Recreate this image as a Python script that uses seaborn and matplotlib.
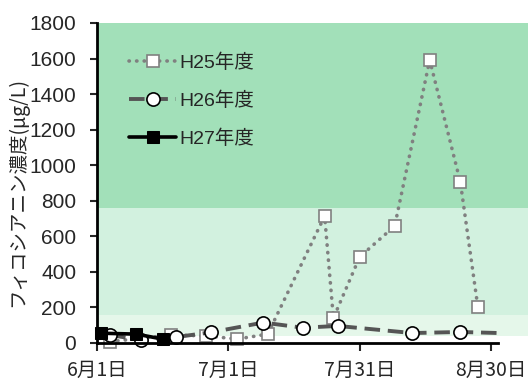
import matplotlib
matplotlib.use('Agg')
import matplotlib.pyplot as plt
import seaborn as sns
import pandas as pd

# sampling dates (month-day) and phycocyanin values (ug/L)
h25_dates = ['06-04', '06-18', '06-26', '07-03', '07-10', '07-23', '07-25',
             '07-31', '08-08', '08-16', '08-23', '08-27']
h25_vals = [8, 45, 40, 22, 50, 714, 140, 484, 658, 1592, 905, 202]

h26_dates = ['06-04', '06-11', '06-19', '06-27', '07-09', '07-18', '07-26',
             '08-12', '08-23', '09-01']
h26_vals = [45, 17, 33, 60, 115, 86, 96, 56, 62, 56]

h27_dates = ['06-02', '06-10', '06-16']
h27_vals = [55, 50, 22]

tick_dates = ['06-01', '07-01', '07-31', '08-30']
tick_labels = ['6月1日', '7月1日', '7月31日', '8月30日']

# background bands (ug/L)
band_edges = [40, 155, 760, 1800]
band_colors = ['#e5f7ea', '#d2f1df', '#a2e0b9']


def to_day(dates):
    d = pd.to_datetime(['2015-' + s for s in dates])
    return (d - pd.Timestamp('2015-06-01')).days.values


df25 = pd.DataFrame({'day': to_day(h25_dates), 'val': h25_vals})
df26 = pd.DataFrame({'day': to_day(h26_dates), 'val': h26_vals})
df27 = pd.DataFrame({'day': to_day(h27_dates), 'val': h27_vals})

sns.set_style('white')
plt.rcParams['font.family'] = ['Liberation Sans', 'Noto Sans CJK JP', 'DejaVu Sans']

fig = plt.figure(figsize=(5.28, 3.81), dpi=100)
ax = fig.add_axes([97 / 528, 1 - 343 / 381, (498 - 97) / 528, (343 - 23) / 381])

for lo, hi, c in zip(band_edges[:-1], band_edges[1:], band_colors):
    ax.axhspan(lo, hi, xmin=0, xmax=1.075, color=c, lw=0, clip_on=False, zorder=0)

sns.lineplot(data=df25, x='day', y='val', ax=ax, sort=False, color='#808080',
             linestyle=(0, (0.1, 2.0)), dash_capstyle='round', linewidth=2.6,
             marker='s', markersize=8.5, markerfacecolor='white',
             markeredgecolor='#808080', markeredgewidth=1.2,
             clip_on=False, label='H25年度', zorder=3)
sns.lineplot(data=df26, x='day', y='val', ax=ax, sort=False, color='#555555',
             linestyle=(0, (4.0, 2.0)), linewidth=2.8,
             marker='o', markersize=9.5, markerfacecolor='white',
             markeredgecolor='black', markeredgewidth=1.2,
             markevery=slice(0, len(h26_vals) - 1),
             clip_on=False, label='H26年度', zorder=4)
sns.lineplot(data=df27, x='day', y='val', ax=ax, sort=False, color='black',
             linewidth=2.6, marker='s', markersize=8.5, markerfacecolor='black',
             markeredgecolor='black', clip_on=False, label='H27年度', zorder=5)

ax.set_xlim(0, 91.6)
ax.set_ylim(0, 1800)
ax.set_yticks(range(0, 1801, 200))
ax.set_xticks(to_day(tick_dates))
ax.set_xticklabels(tick_labels, family=['Noto Sans CJK JP'], fontsize=14)
ax.tick_params(axis='y', labelsize=15, length=5, width=1.5, direction='out',
               left=True, pad=10)
ax.tick_params(axis='x', length=6, width=1.5, direction='out', bottom=True, pad=6)
for s in ['top', 'right']:
    ax.spines[s].set_visible(False)
for s in ['left', 'bottom']:
    ax.spines[s].set_color('black')
    ax.spines[s].set_linewidth(2)
    ax.spines[s].set_zorder(6)

ax.set_xlabel('')
ax.set_ylabel('フィコシアニン濃度(μg/L)', family=['Noto Sans CJK JP'], fontsize=14)
ax.yaxis.set_label_coords(-0.172, 0.472)

leg = ax.legend(loc='upper left', bbox_to_anchor=(0.037, 0.96), frameon=False,
                handlelength=2.4, handletextpad=0.15, labelspacing=1.0,
                prop={'family': ['Liberation Sans', 'Noto Sans CJK JP'], 'size': 14})

fig.savefig('out.png', dpi=100)
